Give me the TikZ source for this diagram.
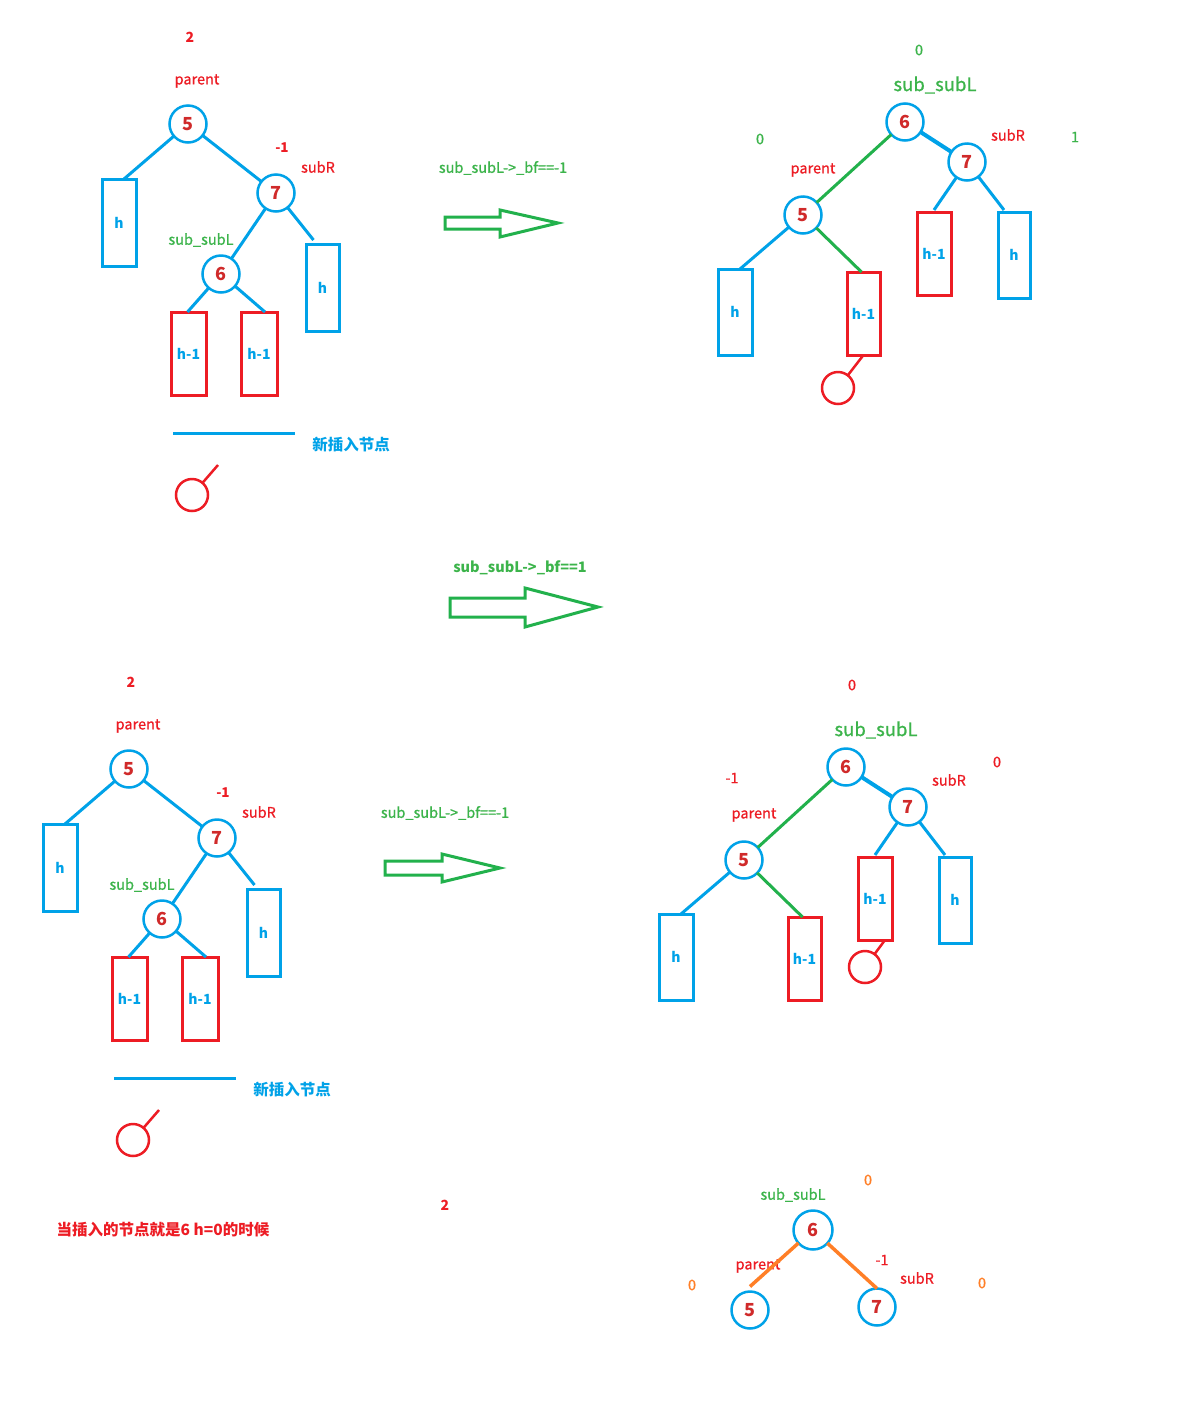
\documentclass[tikz,border=0pt]{standalone}
\usepackage{fontspec}
\setmainfont{Noto Sans CJK SC}
\newfontfamily\medfont{Noto Sans CJK SC}[FakeBold=0.8]
\usetikzlibrary{calc}

\definecolor{pblue}{HTML}{00A2E8}
\definecolor{pred}{HTML}{ED1C24}
\definecolor{pdred}{HTML}{D02A2A}
\definecolor{pgreen}{HTML}{22B14C}
\definecolor{ptext}{HTML}{3CB44B}
\definecolor{porange}{HTML}{FF7F27}

\tikzset{
  every node/.style={inner sep=0pt, outer sep=0pt},
  key/.style={circle, draw=pblue, line width=2.5pt, minimum size=37pt,
    text=pdred, font=\bfseries\fontsize{18}{18}\selectfont},
  bbox/.style={rectangle, draw=pblue, line width=3pt, minimum width=34pt,
    minimum height=86pt, text=pblue, font=\bfseries\fontsize{14}{14}\selectfont},
  rbox/.style={bbox, draw=pred, minimum height=83pt},
  newnode/.style={circle, draw=pred, line width=2.5pt, minimum size=32pt},
  bl/.style={draw=pblue, line width=3pt},
  gr/.style={draw=pgreen, line width=3pt},
  rd/.style={draw=pred, line width=2.5pt},
  og/.style={draw=porange, line width=3.5pt},
  bigarrow/.style={draw=pgreen, line width=3pt, fill=white, line join=miter},
  redlbl/.style={text=pred, font=\medfont\fontsize{14.5}{14.5}\selectfont},
  redbold/.style={text=pred, font=\bfseries\fontsize{14}{14}\selectfont},
  greenlbl/.style={text=ptext, font=\medfont\fontsize{14.5}{14.5}\selectfont},
  greenbig/.style={text=ptext, font=\medfont\fontsize{18.5}{18.5}\selectfont},
  orangelbl/.style={text=porange, font=\medfont\fontsize{14.5}{14.5}\selectfont},
  bluebold/.style={text=pblue, font=\bfseries\fontsize{15.5}{15.5}\selectfont},
}

% AVL tree before the right-left double rotation: parent 5, subR 7, sub_subL 6
\newcommand{\unbalancedTree}[1]{%
  \node[redbold] (#1bfp) at (190,37) {2};
  \node[redlbl] (#1lpar) at (197,81) {parent};
  \node[redbold, font=\bfseries\fontsize{13.5}{13.5}\selectfont] (#1bfr) at (282,148) {-1};
  \node[redlbl] (#1lsubr) at (318,167) {subR};
  \node[greenlbl] (#1lsubl) at (201,240) {sub\_subL};
  \node[key] (#1k5) at (188,124) {5};
  \node[key] (#1k7) at (276,193) {7};
  \node[key] (#1k6) at (221,274) {6};
  \node[bbox, minimum height=87pt] (#1bL) at (119,222.5) {h};
  \node[bbox, minimum width=33pt, minimum height=87pt] (#1bR) at (322.5,287.5) {h};
  \node[rbox, minimum width=35pt] (#1r1) at (188.5,353.5) {h-1};
  \node[rbox, minimum width=36pt] (#1r2) at (259,353.5) {h-1};
  \draw[bl] (#1k5) -- ([xshift=5pt]#1bL.north);
  \draw[bl] (#1k5) -- (#1k7);
  \draw[bl] (#1k7) -- ([xshift=-9pt,yshift=4pt]#1bR.north);
  \draw[bl] (#1k7) -- (#1k6);
  \draw[bl] (#1k6) -- ([xshift=-1pt]#1r1.north);
  \draw[bl] (#1k6) -- ([xshift=6pt]#1r2.north);
  % marker for the newly inserted node
  \coordinate (#1ua) at (173,433);
  \coordinate (#1ub) at (295,433);
  \draw[bl] (#1ua) -- (#1ub);
  \node[bluebold] (#1lnew) at (351,445) {新插入节点};
  \node[newnode] (#1nw) at (192,495) {};
  \coordinate (#1tail) at (218,465);
  \draw[rd] (#1nw) -- (#1tail);
}

% the same subtree after the rotation: sub_subL 6 becomes the root
\newcommand{\rotatedTree}[1]{%
  \node[greenbig] (#1lsubl) at (935,85) {sub\_subL};
  \node[redlbl] (#1lsubr) at (1008,135) {subR};
  \node[redlbl] (#1lpar) at (813,170) {parent};
  \node[key] (#1k6) at (905,122) {6};
  \node[key] (#1k7) at (967,162) {7};
  \node[key] (#1k5) at (803,215) {5};
  \node[bbox] (#1b1) at (735,312) {h};
  \node[rbox, minimum width=33pt] (#1r1) at (863.5,313.5) {h-1};
  \node[rbox] (#1r2) at (934,253.5) {h-1};
  \node[bbox, minimum width=32pt] (#1b2) at (1014,255) {h};
  \draw[gr] (#1k6) -- (#1k5);
  \draw[bl, line width=4pt] (#1k6) -- (#1k7);
  \draw[bl] (#1k7) -- ([yshift=2pt]#1r2.north);
  \draw[bl] (#1k7) -- ([xshift=-10pt,yshift=2pt]#1b2.north);
  \draw[bl] (#1k5) -- ([xshift=5pt]#1b1.north);
  \draw[gr] (#1k5) -- ([xshift=-2pt]#1r1.north);
}

\begin{document}
\begin{tikzpicture}[x=1pt, y=-1pt]
  \fill[white] (0,0) rectangle (1195,1401);
  \useasboundingbox (0,0) rectangle (1195,1401);

  % ---------- case sub_subL->_bf == -1 (top) ----------
  \unbalancedTree{ta}
  \rotatedTree{tb}
  \node[greenlbl] (tbz1) at (919,50) {0};
  \node[greenlbl] (tbz2) at (760,139) {0};
  \node[greenlbl] (tbz3) at (1075,137) {1};
  \node[newnode] (tbnw) at (838,388) {};
  \draw[rd] (tbnw) -- (tbr1.south);

  \node[greenlbl] (a1l) at (503,168) {sub\_subL->\_bf==-1};
  \draw[bigarrow] (445,217) -- (500,217) -- (500,210) -- (558,223)
    -- (500,237) -- (500,229) -- (445,229) -- cycle;

  % ---------- case sub_subL->_bf == 1 ----------
  \node[greenlbl, font=\bfseries\fontsize{14.5}{14.5}\selectfont] (a2l) at (520,568) {sub\_subL->\_bf==1};
  \draw[bigarrow] (450,598) -- (525,598) -- (525,588) -- (598,607)
    -- (525,627) -- (525,617) -- (450,617) -- cycle;

  \begin{scope}[shift={(-59,645)}]
    \unbalancedTree{ba}
    \rotatedTree{bb}
    \node[redlbl] (bbz1) at (911,40) {0};
    \node[redlbl] (bbz2) at (1056,117) {0};
    \node[redlbl] (bbm1) at (791,133) {-1};
    \node[newnode] (bbnw) at (924,322) {};
    \draw[rd] (bbnw) -- ([xshift=10pt]bbr2.south);
  \end{scope}

  \node[greenlbl] (a3l) at (445,813) {sub\_subL->\_bf==-1};
  \draw[bigarrow] (385,861) -- (442,861) -- (442,854) -- (500,868)
    -- (442,882) -- (442,875) -- (385,875) -- cycle;

  % ---------- case h = 0: the inserted node is 6 itself ----------
  \node[redbold, font=\bfseries\fontsize{15.5}{15.5}\selectfont] (note) at (163,1230) {当插入的节点就是6 h=0的时候};
  \node[redbold] (sbf) at (445,1205) {2};

  \node[orangelbl] (sz1) at (868,1180) {0};
  \node[greenlbl] (sl6) at (793,1195) {sub\_subL};
  \node[key, minimum size=39pt] (s6) at (813,1230) {6};
  \node[key] (s5) at (750,1310) {5};
  \node[key] (s7) at (877,1307) {7};
  \node[redlbl] (sl5) at (758,1266) {parent};
  \node[redlbl] (sm1) at (882,1260) {-1};
  \node[redlbl] (sl7) at (917,1278) {subR};
  \node[orangelbl] (sz2) at (692,1285) {0};
  \node[orangelbl] (sz3) at (982,1283) {0};
  \draw[og] ([yshift=5pt]s5.north) -- (s6);
  \draw[og] (s7.north) -- (s6);
\end{tikzpicture}
\end{document}
